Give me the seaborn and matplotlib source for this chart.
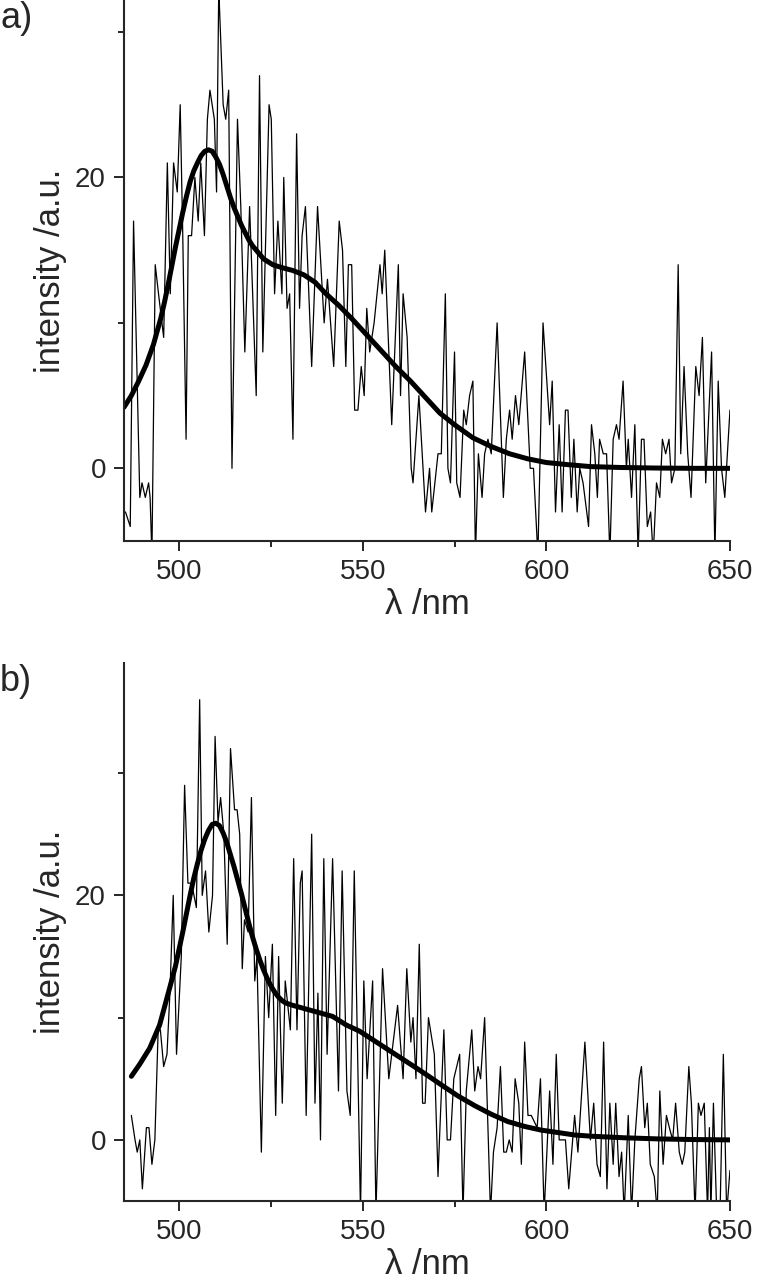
import numpy as np
import pandas as pd
import matplotlib
matplotlib.use("Agg")
import matplotlib.pyplot as plt
from matplotlib.ticker import MultipleLocator
import seaborn as sns

# panel a) raw spectrum (wavelength / nm, intensity / a.u.)
wl_raw_a = [
    485.4, 486.7, 487.6, 489.3, 489.9, 490.8, 491.7, 492.1, 492.6, 493.5,
    494.4, 495.8, 496.8, 497.6, 498.5, 499.5, 500.3, 501.0, 501.9, 502.5,
    503.4, 504.3, 505.2, 505.9, 506.9, 507.7, 508.4, 509.6, 510.2, 510.8,
    512.0, 512.7, 513.5, 514.4, 515.9, 516.8, 517.9, 519.2, 521.0, 521.9,
    522.8, 524.5, 525.1, 526.0, 526.9, 528.0, 528.5, 529.4, 530.1, 531.0,
    532.0, 532.8, 533.5, 534.4, 536.1, 537.7, 539.5, 540.4, 542.1, 543.6,
    544.5, 545.4, 546.1, 547.0, 547.8, 548.7, 549.6, 550.4, 551.1, 551.9,
    553.1, 554.7, 555.3, 556.0, 557.9, 559.7, 560.3, 561.0, 562.1, 563.2,
    563.7, 565.3, 567.1, 568.2, 568.8, 570.5, 571.4, 572.5, 573.2, 573.9,
    575.0, 575.6, 576.5, 577.5, 578.2, 579.1, 580.0, 580.7, 581.5, 582.5,
    583.2, 584.1, 585.0, 586.6, 588.3, 589.1, 590.0, 590.7, 591.6, 592.5,
    594.1, 595.6, 596.5, 597.7, 599.1, 600.9, 601.6, 602.5, 603.5, 604.3,
    605.2, 605.9, 606.8, 607.5, 608.4, 609.1, 610.0, 611.5, 612.3, 613.2,
    613.9, 614.5, 615.5, 616.4, 617.3, 618.2, 619.1, 619.8, 620.9, 621.8,
    622.3, 623.2, 624.1, 625.0, 625.9, 626.6, 627.5, 628.4, 629.1, 630.0,
    630.9, 631.6, 632.5, 633.4, 634.1, 635.0, 635.9, 636.6, 637.5, 638.5,
    639.4, 640.7, 641.6, 642.5, 643.4, 645.0, 645.9, 646.8, 647.7, 648.6,
    650.0,
]
int_raw_a = [
    -3, -4, 17, -2, -1, -2, -1, -2, -6, 14,
    12, 9, 21, 12, 21, 19, 25, 16, 2, 16,
    16, 20, 17, 21, 16, 24, 26, 24, 19, 33,
    25, 24, 26, 0, 24, 18, 8, 18, 5, 27,
    8, 25, 24, 12, 17, 12, 20, 11, 12, 2,
    23, 11, 16, 18, 7, 18, 10, 13, 7, 17,
    15, 7, 14, 14, 4, 4, 7, 5, 11, 8,
    10, 14, 12, 15, 3, 14, 5, 12, 9, 0,
    -1, 5, -3, 0, -3, 1, 1, 12, 0, -1,
    8, -1, -2, 4, 3, 5, 6, -6, 1, -2,
    1, 2, 1, 10, -2, 2, 4, 2, 5, 3,
    8, 0, 0, -6, 10, 3, 6, -3, 3, -3,
    4, 4, -2, 2, -3, 0, -1, -4, 3, 1,
    -2, 2, 1, 1, -6, 2, 3, 2, 6, 0,
    2, -2, 3, -6, 2, 2, -4, -3, -6, -1,
    -2, 2, 1, 2, -1, 0, 14, 1, 7, 1,
    -2, 7, 5, 9, -1, 8, -6, 6, 0, -2,
    4,
]

# panel a) fitted curve
wl_fit_a = [
    485, 487, 489, 491, 493, 495, 496, 497, 498, 499,
    500, 501, 502, 503, 504, 505, 506, 507, 508, 509,
    510, 511, 512, 513, 514, 515, 516, 517, 518, 519,
    520, 521, 523, 525.5, 528, 531, 534, 537, 540, 543.5,
    547, 551, 555, 559, 563, 567, 571, 575, 580, 585,
    590, 595, 600, 606, 612, 620, 630, 640, 650,
]
int_fit_a = [
    4.2, 5.0, 6.0, 7.1, 8.5, 10.3, 11.4, 12.6, 13.9, 15.2,
    16.4, 17.6, 18.7, 19.7, 20.45, 21.0, 21.5, 21.8, 21.9, 21.8,
    21.4, 20.9, 20.2, 19.4, 18.6, 17.9, 17.3, 16.7, 16.2, 15.7,
    15.3, 15.0, 14.4, 14.0, 13.8, 13.6, 13.3, 12.8, 12.0, 11.2,
    10.3, 9.2, 8.1, 7.0, 6.0, 4.9, 3.8, 3.0, 2.1, 1.5,
    1.0, 0.65, 0.4, 0.25, 0.12, 0.06, 0.02, 0.0, 0.0,
]

# panel b) raw spectrum
wl_raw_b = [
    487.0, 488.0, 488.6, 489.3, 490.0, 491.1, 491.8, 492.6, 493.4, 494.3,
    494.9, 495.8, 496.7, 497.5, 498.4, 499.3, 500.6, 501.5, 502.4, 503.4,
    504.7, 505.6, 506.3, 507.2, 508.1, 509.1, 509.8, 510.6, 511.3, 512.2,
    513.1, 514.0, 515.1, 515.8, 516.5, 517.2, 517.8, 518.8, 519.7, 520.6,
    521.2, 522.4, 523.5, 524.4, 525.4, 526.3, 527.1, 528.1, 528.9, 529.6,
    530.3, 531.2, 532.1, 533.0, 533.5, 534.6, 536.1, 537.0, 537.8, 538.5,
    539.4, 540.3, 541.8, 543.4, 544.4, 545.7, 546.6, 547.7, 549.4, 550.3,
    551.2, 552.7, 553.6, 555.4, 557.1, 559.5, 561.0, 562.0, 563.1, 563.7,
    564.5, 565.4, 566.3, 567.0, 567.9, 569.5, 570.5, 572.1, 573.0, 573.9,
    574.8, 576.4, 577.3, 578.2, 579.7, 580.5, 581.4, 582.1, 583.2, 584.8,
    585.6, 586.6, 587.5, 588.4, 589.1, 589.9, 590.7, 591.5, 592.5, 593.2,
    594.1, 595.0, 595.9, 597.5, 598.4, 599.4, 600.9, 601.8, 602.7, 603.5,
    604.4, 605.2, 606.1, 607.7, 608.6, 610.5, 612.0, 612.9, 613.8, 614.7,
    615.6, 616.5, 617.3, 618.2, 618.9, 619.8, 620.5, 621.2, 622.3, 623.2,
    624.1, 625.3, 625.9, 626.8, 627.5, 628.3, 629.4, 630.2, 630.9, 631.8,
    632.7, 633.5, 634.4, 635.2, 636.2, 637.0, 637.7, 638.8, 639.5, 640.5,
    641.4, 642.1, 643.0, 643.9, 644.4, 644.8, 645.5, 646.4, 647.3, 648.2,
    649.1, 650.0,
]
int_raw_b = [
    2, 0, -1, 0, -4, 1, 1, -2, 0, 9,
    9, 6, 7, 12, 20, 7, 15, 29, 21, 21,
    19, 36, 20, 22, 17, 20, 33, 26, 28, 25,
    16, 32, 27, 27, 25, 14, 18, 17, 28, 13,
    15, -1, 15, 10, 16, 2, 15, 3, 13, 11,
    9, 23, 9, 21, 22, 2, 25, 3, 12, 0,
    23, 7, 23, 4, 22, 4, 2, 22, -6, 13,
    5, 13, -6, 14, 5, 11, 5, 14, 8, 10,
    5, 16, 3, 3, 10, 7, -3, 9, 0, 0,
    5, 7, -6, 4, 9, 4, 6, 5, 10, -6,
    -1, 1, 6, -1, -1, 0, -1, 5, 3, -2,
    8, 2, 2, 1, 5, -6, 4, -2, 7, 0,
    0, 0, -4, 2, -1, 8, 0, 3, -2, -3,
    8, -4, 3, -2, 3, -3, -1, -6, 2, -6,
    0, 5, 6, 1, 3, -2, -3, -6, 4, -2,
    2, 1, 0, 3, -1, -2, -1, 6, 3, -6,
    3, 2, 3, -6, 1, -6, 3, -6, -6, 7,
    -6, -2.5,
]

# panel b) fitted curve
wl_fit_b = [
    487, 489.3, 492, 494.7, 497.5, 499, 500, 501, 502, 503,
    504, 505, 506, 507, 508, 509, 510, 511, 512, 513,
    514, 515, 516, 517, 518, 519, 520, 521, 522, 523,
    524, 525, 526, 527, 528, 529, 531, 534.6, 538.2, 541.8,
    545.5, 549.1, 552.7, 556.3, 560.9, 564.5, 568, 571.4, 575.9, 580.5,
    585, 589.5, 594.1, 598.6, 603.2, 607.7, 612.3, 621.4, 630.5, 639.5,
    650,
]
int_fit_b = [
    5.2, 6.2, 7.5, 9.4, 12.5, 14.2, 15.6, 17.0, 18.5, 20.0,
    21.4, 22.6, 23.7, 24.6, 25.3, 25.8, 25.9, 25.7, 25.1, 24.3,
    23.3, 22.3, 21.2, 20.1, 18.9, 17.7, 16.6, 15.6, 14.7, 13.9,
    13.2, 12.6, 12.1, 11.7, 11.4, 11.2, 11.0, 10.7, 10.4, 10.1,
    9.4, 8.9, 8.2, 7.5, 6.6, 5.9, 5.2, 4.5, 3.6, 2.8,
    2.1, 1.5, 1.1, 0.8, 0.6, 0.4, 0.3, 0.17, 0.08, 0.03,
    0.0,
]

panels = [
    ("a)", wl_raw_a, int_raw_a, wl_fit_a, int_fit_a, (-5, 32.2)),
    ("b)", wl_raw_b, int_raw_b, wl_fit_b, int_fit_b, (-5, 39.0)),
]

sns.set_style("ticks")
plt.rcParams["font.family"] = ["Liberation Sans", "DejaVu Sans"]

fig = plt.figure(figsize=(7.58, 12.8), dpi=100)
boxes = [[0.1636, 0.5773, 0.7994, 0.4227], [0.1636, 0.0617, 0.7994, 0.4203]]
tags_y = [0.999, 0.481]

for (tag, wr, ir, wf, inf, ylim), box, ty in zip(panels, boxes, tags_y):
    ax = fig.add_axes(box)
    raw = pd.DataFrame({"wl": wr, "I": ir})
    fit = pd.DataFrame({"wl": wf, "I": inf})
    sns.lineplot(data=raw, x="wl", y="I", ax=ax, color="black", lw=0.9,
                 estimator=None, sort=False)
    sns.lineplot(data=fit, x="wl", y="I", ax=ax, color="black", lw=3.6,
                 estimator=None, sort=False, solid_capstyle="round")
    ax.set_xlim(485, 650)
    ax.set_ylim(*ylim)
    ax.xaxis.set_major_locator(MultipleLocator(50))
    ax.xaxis.set_minor_locator(MultipleLocator(25))
    ax.yaxis.set_major_locator(MultipleLocator(20))
    ax.yaxis.set_minor_locator(MultipleLocator(10))
    ax.tick_params(which="major", direction="out", length=7, width=1.4,
                   labelsize=20, pad=6)
    ax.tick_params(which="minor", direction="out", length=4.5, width=1.4)
    for s in ("left", "bottom"):
        ax.spines[s].set_linewidth(1.5)
    sns.despine(ax=ax, top=True, right=True)
    ax.set_xlabel("λ /nm", fontsize=25, labelpad=2)
    ax.set_ylabel("intensity /a.u.", fontsize=25, labelpad=6)
    fig.text(0.0, ty, tag, fontsize=26, ha="left", va="top")

fig.savefig("out.png", dpi=100)
